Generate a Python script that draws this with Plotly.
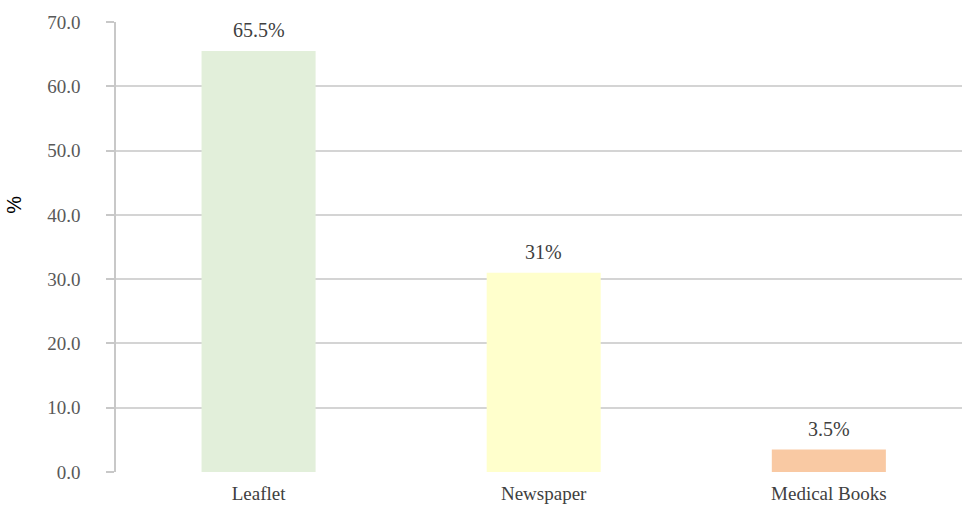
import plotly.graph_objects as go

categories = ["Leaflet", "Newspaper", "Medical Books"]
values = [65.5, 31.0, 3.5]
value_labels = ["65.5%", "31%", "3.5%"]
bar_colors = ["#E2EFDA", "#FFFFCC", "#F9C9A3"]
y_ticks = [0, 10, 20, 30, 40, 50, 60, 70]

fig = go.Figure()
fig.add_trace(go.Bar(
    x=categories, y=values, width=0.40,
    marker=dict(color=bar_colors, line=dict(width=0)),
    hoverinfo="skip",
))

for c, v, t in zip(categories, values, value_labels):
    fig.add_annotation(x=c, y=v, text=t, showarrow=False, yanchor="middle",
                       yshift=21, font=dict(family="Liberation Serif", size=20, color="#404040"))

fig.add_annotation(xref="paper", yref="paper", x=-0.1205, y=0.594, xanchor="center", yanchor="middle",
                   text="%", textangle=-90, showarrow=False,
                   font=dict(family="Liberation Sans", size=20, color="#000000"))

fig.update_layout(
    width=962, height=506,
    margin=dict(l=116, r=0, t=22, b=34),
    paper_bgcolor="white", plot_bgcolor="white",
    showlegend=False,
    bargap=0.6,
)
fig.update_xaxes(
    range=[-0.5, 2.467],
    showgrid=False, showline=False, ticks="",
    ticklabelstandoff=8,
    tickfont=dict(family="Liberation Serif", size=19, color="#404040"),
)
fig.update_yaxes(
    range=[0, 70], tickvals=y_ticks, tickformat=".1f",
    showgrid=True, gridcolor="#D4D4D4", gridwidth=1.5,
    showline=True, linecolor="#C8C8C8", linewidth=1.5,
    ticks="outside", ticklen=8, tickcolor="#C8C8C8", tickwidth=1.5,
    ticklabelstandoff=22,
    tickfont=dict(family="Liberation Serif", size=19, color="#595959"),
    zeroline=False,
)

fig.write_html("out.html")
